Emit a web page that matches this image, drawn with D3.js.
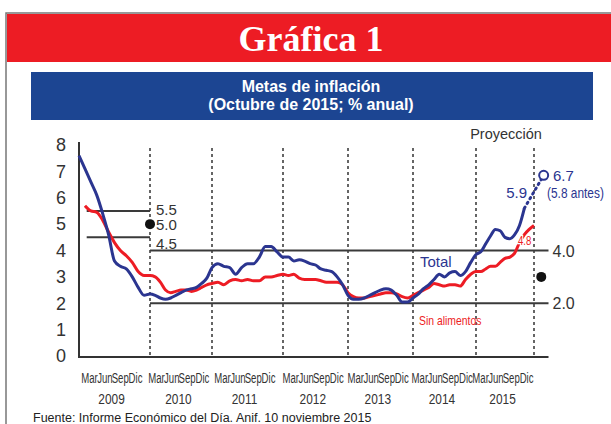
<!DOCTYPE html>
<html>
<head>
<meta charset="utf-8">
<script src="https://cdn.jsdelivr.net/npm/d3@7"></script>
<style>
  body { margin: 0; background: #fff; }
  svg { display: block; font-family: "Liberation Sans", Arial, sans-serif; }
</style>
</head>
<body>
<svg id="chart" width="611" height="424"></svg>
<script>
// month index: 0 = Dic 2008, 12 = Dic 2009 ... 84 = Dic 2015
const yearEnds = [0, 12, 24, 36, 48, 60, 72, 84]
const years = ["2009", "2010", "2011", "2012", "2013", "2014", "2015"]
const monthLabels = ["Mar", "Jun", "Sep", "Dic"]
const yTicks = [0, 1, 2, 3, 4, 5, 6, 7, 8]

// Total, starts at month 0
const total = [
  7.6, 7.1, 6.6, 6.1, 5.4, 4.6, 3.6, 3.4, 3.3, 3.0, 2.6, 2.3, 2.35,
  2.3, 2.2, 2.15, 2.2, 2.3, 2.4, 2.5, 2.55, 2.6, 2.75, 2.95, 3.35,
  3.5, 3.4, 3.35, 3.1, 3.35, 3.5, 3.5, 3.75, 4.15, 4.15, 3.95, 3.75,
  3.75, 3.6, 3.65, 3.6, 3.5, 3.45, 3.3, 3.25, 3.2, 3.0, 2.7, 2.3,
  2.15, 2.15, 2.2, 2.3, 2.4, 2.5, 2.55, 2.5, 2.3, 2.05, 2.05, 2.2,
  2.35, 2.55, 2.7, 2.9, 3.1, 3.0, 3.15, 3.2, 3.05, 3.2, 3.55, 3.85,
  3.95, 4.25, 4.55, 4.8, 4.75, 4.5, 4.45, 4.6, 4.95, 5.6
]
// Sin alimentos, starts at month 1
const sinAlimentos = [
  5.7, 5.5, 5.45, 5.15, 4.7, 4.3, 4.0, 3.8, 3.55, 3.2, 3.05, 3.05,
  3.0, 2.8, 2.5, 2.4, 2.45, 2.5, 2.5, 2.45, 2.5, 2.6, 2.7, 2.75,
  2.8, 2.7, 2.85, 2.9, 2.85, 2.9, 2.85, 2.85, 3.0, 3.0, 3.05, 3.1,
  3.05, 3.1, 2.95, 2.9, 2.9, 2.9, 2.85, 2.8, 2.8, 2.8, 2.7, 2.4,
  2.25, 2.2, 2.2, 2.25, 2.3, 2.35, 2.4, 2.4, 2.35, 2.25, 2.2, 2.3,
  2.4, 2.5, 2.6, 2.75, 2.7, 2.65, 2.7, 2.7, 2.65, 2.9, 3.1, 3.2,
  3.2, 3.3, 3.4, 3.4, 3.55, 3.7, 3.75, 3.9, 4.3, 4.6, 4.8, 4.95
]
// proyeccion (dotted)
const projMonths = [82, 86]
const projValues = [5.6, 6.85]

// metas
const meta2009 = {from: 1.3, to: 12, low: 4.5, mid: 5.0, high: 5.5}
const metaRange = {from: 12, to: 87, low: 2.0, high: 4.0}
const metaPoint = {month: 85.5, value: 3.0}

const svg = d3.select("#chart")

// frame + header
svg.append("rect").attr("x", 6).attr("y", 13).attr("width", 620).attr("height", 430)
  .attr("fill", "#fff").attr("stroke", "#777").attr("stroke-width", 1.5)
svg.append("rect").attr("x", 7).attr("y", 14).attr("width", 610).attr("height", 48)
  .attr("fill", "#ed1c24")
svg.append("text").attr("x", 311).attr("y", 51).attr("text-anchor", "middle")
  .attr("fill", "#fff").style("font-family", '"Liberation Serif", "Times New Roman", serif')
  .style("font-weight", "bold").style("font-size", "36px").text("Gráfica 1")

svg.append("rect").attr("x", 31).attr("y", 72).attr("width", 562).attr("height", 48)
  .attr("fill", "#1c4592")
svg.append("text").attr("x", 311).attr("y", 92).attr("text-anchor", "middle")
  .attr("fill", "#fff").style("font-weight", "bold").style("font-size", "16px")
  .text("Metas de inflación")
svg.append("text").attr("x", 311).attr("y", 110).attr("text-anchor", "middle")
  .attr("fill", "#fff").style("font-weight", "bold").style("font-size", "16px")
  .text("(Octubre de 2015; % anual)")

let x = d3.scaleLinear()
  .domain(yearEnds)
  .range([79, 150, 212, 283, 348, 413, 476, 534])

let y = d3.scaleLinear()
  .domain([0, 8])
  .range([356, 145])

let g = svg.append("g")

// year separators
g.selectAll(".sep").data(yearEnds.slice(1)).enter().append("line")
  .attr("x1", d => x(d)).attr("x2", d => x(d))
  .attr("y1", 148).attr("y2", y(0))
  .attr("stroke", "#333").attr("stroke-width", 1.5).attr("stroke-dasharray", "3,3")

// axes
let yAxis = g.append("g").attr("transform", "translate(79,0)")
  .call(d3.axisLeft(y).tickValues(yTicks).tickSize(0).tickPadding(13).tickFormat(d3.format("d")))
yAxis.select(".domain").attr("stroke", "#333").attr("stroke-width", 2)
  .attr("d", `M0,142V${y(0) + 1}`)
yAxis.selectAll("text").attr("fill", "#333").style("font-size", "18px")
  .style("font-family", '"Liberation Sans", Arial, sans-serif')

g.append("line").attr("x1", 78).attr("x2", x(metaRange.to))
  .attr("y1", y(0) + 1).attr("y2", y(0) + 1)
  .attr("stroke", "#333").attr("stroke-width", 2)

// x tick labels: one group of quarter labels under each year
let quarter = d3.scalePoint().domain(monthLabels).range([-22, 24])
let tickData = []
years.forEach((yr, i) => {
  monthLabels.forEach(m => tickData.push({label: m, pos: x(12 * i + 5.5) + quarter(m)}))
})
g.selectAll(".mlab").data(tickData).enter().append("text")
  .attr("transform", d => `translate(${d.pos},382.5) scale(0.64,1)`)
  .attr("text-anchor", "middle").attr("fill", "#333").style("font-size", "15px")
  .text(d => d.label)
g.selectAll(".ylab").data(years).enter().append("text")
  .attr("transform", (d, i) => `translate(${x(12 * i + 5.5)},404) scale(0.82,1)`)
  .attr("text-anchor", "middle").attr("fill", "#333").style("font-size", "14.5px")
  .text(d => d)

// metas
let metaColor = "#3a3a3a"
;[meta2009.high, meta2009.low].forEach(v => {
  g.append("line").attr("x1", x(meta2009.from)).attr("x2", x(meta2009.to))
    .attr("y1", y(v)).attr("y2", y(v))
    .attr("stroke", metaColor).attr("stroke-width", 2)
})
;[metaRange.high, metaRange.low].forEach(v => {
  g.append("line").attr("x1", x(metaRange.from)).attr("x2", x(metaRange.to))
    .attr("y1", y(v)).attr("y2", y(v))
    .attr("stroke", metaColor).attr("stroke-width", 2)
})
g.append("circle").attr("cx", x(meta2009.to)).attr("cy", y(meta2009.mid)).attr("r", 5)
  .attr("fill", "#111")
g.append("circle").attr("cx", x(metaPoint.month)).attr("cy", y(metaPoint.value)).attr("r", 5)
  .attr("fill", "#111")

let small = [
  {t: "5.5", v: meta2009.high, dy: 4.5},
  {t: "5.0", v: meta2009.mid, dy: 6},
  {t: "4.5", v: meta2009.low, dy: 12}
]
g.selectAll(".mtxt").data(small).enter().append("text")
  .attr("x", x(meta2009.to) + 6).attr("y", d => y(d.v) + d.dy)
  .attr("fill", "#333").style("font-size", "15px").text(d => d.t)
g.selectAll(".rtxt").data([metaRange.high, metaRange.low]).enter().append("text")
  .attr("x", x(metaRange.to) + 4).attr("y", d => y(d) + 6)
  .attr("fill", "#333").style("font-size", "16px").text(d => d.toFixed(1))

// lines
let line = d3.line()
  .x(d => x(d[0]))
  .y(d => y(d[1]))
  .curve(d3.curveMonotoneX)

g.append("path")
  .attr("fill", "none").attr("stroke", "#ed1c24").attr("stroke-width", 3)
  .attr("d", line(sinAlimentos.map((v, i) => [i + 1, v])))
g.append("path")
  .attr("fill", "none").attr("stroke", "#2b3590").attr("stroke-width", 3)
  .attr("d", line(total.map((v, i) => [i, v])))

g.append("path")
  .attr("fill", "none").attr("stroke", "#2b3590").attr("stroke-width", 3)
  .attr("stroke-dasharray", "1.5,4").attr("stroke-linecap", "round")
  .attr("d", d3.line().x(d => x(d[0])).y(d => y(d[1]))(projMonths.map((m, i) => [m, projValues[i]])))
g.append("circle")
  .attr("cx", x(projMonths[1])).attr("cy", y(projValues[1])).attr("r", 4.5)
  .attr("fill", "#fff").attr("stroke", "#2b3590").attr("stroke-width", 2)

// labels
svg.append("text").attr("x", 506).attr("y", 139).attr("text-anchor", "middle")
  .attr("fill", "#333").style("font-size", "14.5px").text("Proyección")
svg.append("text").attr("x", 553).attr("y", 181).attr("fill", "#2b3590")
  .style("font-size", "15px").text("6.7")
svg.append("text").attr("transform", "translate(547,198) scale(0.85,1)").attr("fill", "#2b3590")
  .style("font-size", "14px").text("(5.8 antes)")
svg.append("text").attr("x", 527).attr("y", 198).attr("text-anchor", "end")
  .attr("fill", "#2b3590").style("font-size", "15px").text("5.9")
svg.append("text").attr("transform", "translate(518,245) scale(0.8,1)").attr("fill", "#ed1c24")
  .attr("stroke", "#fff").attr("stroke-width", 2.5).attr("paint-order", "stroke")
  .style("font-size", "12px").text("4.8")
svg.append("text").attr("x", 420).attr("y", 267).attr("fill", "#2b3590")
  .style("font-size", "15px").text("Total")
svg.append("text").attr("transform", "translate(419,325) scale(0.8,1)").attr("fill", "#ed1c24")
  .style("font-size", "13px").text("Sin alimentos")

svg.append("text").attr("x", 33).attr("y", 422).attr("fill", "#222")
  .style("font-size", "12.5px").text("Fuente: Informe Económico del Día. Anif. 10 noviembre 2015")
</script>
</body>
</html>
